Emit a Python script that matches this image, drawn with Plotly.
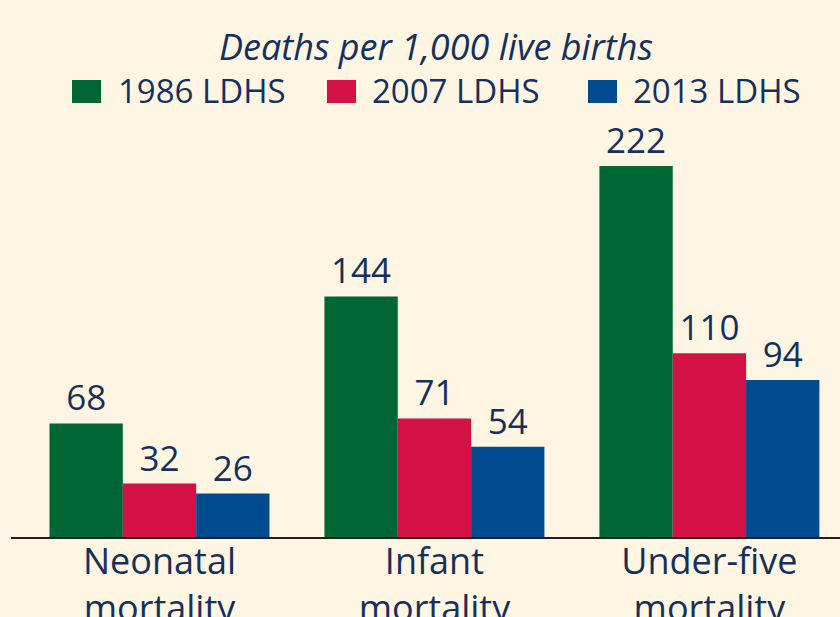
import plotly.graph_objects as go

categories = ["Neonatal<br>mortality", "Infant<br>mortality", "Under-five<br>mortality"]
series_names = ["1986 LDHS", "2007 LDHS", "2013 LDHS"]
values_1986 = [68, 144, 222]
values_2007 = [32, 71, 110]
values_2013 = [26, 54, 94]
series_values = [values_1986, values_2007, values_2013]
colors = ["#006633", "#D31145", "#004A8F"]

BG = "#FEF6E3"
TXT = "#16305E"
FONT = "Open Sans"

W, H = 840, 617
ML, MR, MT, MB = 11, 0, 130, 80
PW, PH = W - ML - MR, H - MT - MB

def px_x(px):
    return (px - ML) / PW

def px_y(py):
    return (H - MB - py) / PH

fig = go.Figure()
for name, vals, col in zip(series_names, series_values, colors):
    fig.add_trace(go.Bar(
        x=categories, y=vals, name=name,
        marker=dict(color=col, line=dict(width=0)),
        text=[str(v) for v in vals], textposition="outside",
        textfont=dict(family=FONT, size=35, color=TXT),
        constraintext="none", cliponaxis=False, showlegend=False,
        hoverinfo="skip",
    ))

shapes = []
annotations = []
legend_sq_x = [72, 327, 588]
legend_tx_x = [116, 370, 631]
for i, (name, col) in enumerate(zip(series_names, colors)):
    shapes.append(dict(type="rect", xref="paper", yref="paper",
                       x0=px_x(legend_sq_x[i]), x1=px_x(legend_sq_x[i] + 29),
                       y0=px_y(103), y1=px_y(80),
                       fillcolor=col, line=dict(width=0)))
    annotations.append(dict(xref="paper", yref="paper",
                            x=px_x(legend_tx_x[i]), y=px_y(90),
                            xanchor="left", yanchor="middle", showarrow=False,
                            text=name, font=dict(family=FONT, size=33, color=TXT)))

annotations.append(dict(xref="paper", yref="paper", x=px_x(436), y=px_y(47),
                        xanchor="center", yanchor="middle", showarrow=False,
                        text="<i>Deaths per 1,000 live births</i>",
                        font=dict(family=FONT, size=36, color=TXT)))

fig.update_layout(
    width=W, height=H,
    margin=dict(l=ML, r=MR, t=MT, b=MB, autoexpand=False),
    paper_bgcolor=BG, plot_bgcolor=BG,
    barmode="group", bargap=0.2, bargroupgap=0,
    shapes=shapes, annotations=annotations,
    showlegend=False,
    xaxis=dict(type="category", range=[-0.54, 2.475], showgrid=False,
               showline=True, linecolor="#231F20", linewidth=2,
               ticks="", automargin=False, ticklabelstandoff=-8,
               tickfont=dict(family=FONT, size=36, color=TXT)),
    yaxis=dict(range=[0, 243.6], visible=False, showgrid=False, zeroline=False),
)

fig.write_html("out.html", config={"displayModeBar": False},
               post_script="document.body.style.margin='0';")
